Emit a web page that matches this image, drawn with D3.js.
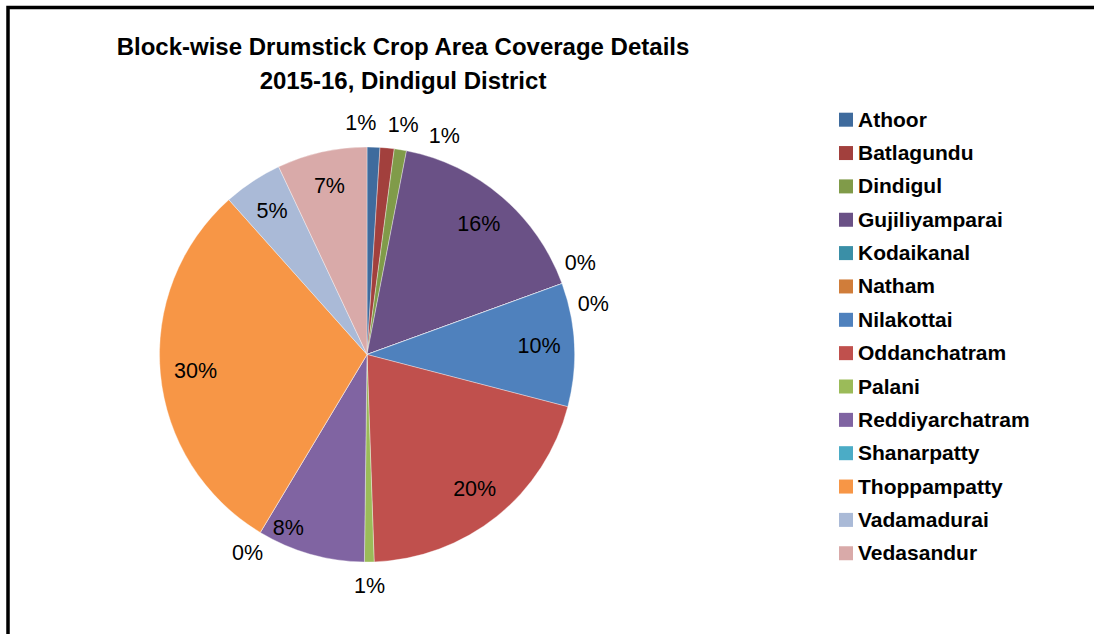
<!DOCTYPE html>
<html>
<head>
<meta charset="utf-8">
<script src="https://cdn.jsdelivr.net/npm/d3@7"></script>
<style>
  html, body { margin: 0; padding: 0; background: #fff; }
  svg { display: block; }
</style>
</head>
<body>
<svg id="chart" width="1094" height="634"></svg>
<script>
// Block-wise drumstick crop area share (%), 2015-16, Dindigul District
const blocks = [
  "Athoor", "Batlagundu", "Dindigul", "Gujiliyamparai", "Kodaikanal", "Natham",
  "Nilakottai", "Oddanchatram", "Palani", "Reddiyarchatram", "Shanarpatty",
  "Thoppampatty", "Vadamadurai", "Vedasandur"
];
const areaShare = [1.0, 1.1, 0.95, 16.4, 0, 0, 9.6, 20.4, 0.75, 8.4, 0, 29.8, 4.6, 7.0];
const sliceColors = [
  "#3F6B9D", "#A2403D", "#809B49", "#6A5186", "#3A8FA7", "#D07D3A",
  "#4F81BD", "#C0504D", "#9BBB59", "#8064A2", "#4BACC6", "#F79646",
  "#AABAD7", "#D9AAA9"
];
const titleLines = ["Block-wise Drumstick Crop Area Coverage Details", "2015-16, Dindigul District"];

const svg = d3.select("#chart");

// chart frame (only the top and left edges fall inside the view)
svg.append("rect")
  .attr("x", 8).attr("y", 7.5)
  .attr("width", 1200).attr("height", 1000)
  .attr("fill", "none").attr("stroke", "#000").attr("stroke-width", 3.5);

// title
svg.append("g").selectAll("text").data(titleLines).join("text")
  .attr("x", 403).attr("y", (d, i) => 55 + i * 34)
  .attr("text-anchor", "middle")
  .attr("font-family", "'Liberation Sans', Arial, sans-serif")
  .attr("font-weight", "bold").attr("font-size", 24)
  .attr("fill", "#000")
  .text(d => d);

// pie
const cx = 367, cy = 354.5, R = 207.5;
const data = blocks.map((b, i) => ({ name: b, value: areaShare[i], color: sliceColors[i] }));
const total = d3.sum(areaShare);
const pie = d3.pie().value(d => d.value).sort(null);
const arcs = pie(data);
const arc = d3.arc().innerRadius(0).outerRadius(R);

const g = svg.append("g").attr("transform", `translate(${cx},${cy})`);
g.selectAll("path").data(arcs).join("path")
  .attr("d", arc)
  .attr("fill", d => d.data.color)
  .attr("stroke", "#fff").attr("stroke-width", 0.6).attr("stroke-opacity", 0.6);

// data labels: large slices inside, small slices outside, spread apart clockwise
const insideR = 0.83 * R, outsideR = 232;
const labelNudge = { Reddiyarchatram: { da: 0.15, dr: 18 } };
const labels = arcs.map(a => {
  const pct = a.data.value / total;
  const mid = (a.startAngle + a.endAngle) / 2;
  return { name: a.data.name, text: Math.round(pct * 100) + "%", angle: mid, inside: pct >= 0.03 };
});
const outside = labels.filter(l => !l.inside).sort((a, b) => a.angle - b.angle);
const gap = 10.5 * Math.PI / 180;
for (let k = 0; k < 200; k++) {
  for (let i = 0; i < outside.length - 1; i++) {
    const d = outside[i + 1].angle - outside[i].angle;
    if (d < gap) {
      outside[i].angle -= 0.3 * (gap - d);
      outside[i + 1].angle += 0.7 * (gap - d);
    }
  }
}
labels.forEach(l => {
  const n = labelNudge[l.name] || { da: 0, dr: 0 };
  const r = (l.inside ? insideR : outsideR) + n.dr;
  const a = l.angle + n.da;
  l.x = cx + r * Math.sin(a);
  l.y = cy - r * Math.cos(a);
});
svg.append("g").selectAll("text").data(labels).join("text")
  .attr("x", d => d.x).attr("y", d => d.y)
  .attr("text-anchor", "middle").attr("dominant-baseline", "central")
  .attr("font-family", "'Liberation Sans', Arial, sans-serif")
  .attr("font-size", 21.5).attr("fill", "#000")
  .text(d => d.text);

// legend
const legend = svg.append("g").selectAll("g").data(data).join("g")
  .attr("transform", (d, i) => `translate(839, ${126.7 + i * 33.35})`);
legend.append("rect")
  .attr("x", 0).attr("y", -14).attr("width", 14).attr("height", 14)
  .attr("fill", d => d.color);
legend.append("text")
  .attr("x", 19).attr("y", 0)
  .attr("font-family", "'Liberation Sans', Arial, sans-serif")
  .attr("font-weight", "bold").attr("font-size", 21).attr("fill", "#000")
  .text(d => d.name);
</script>
</body>
</html>
